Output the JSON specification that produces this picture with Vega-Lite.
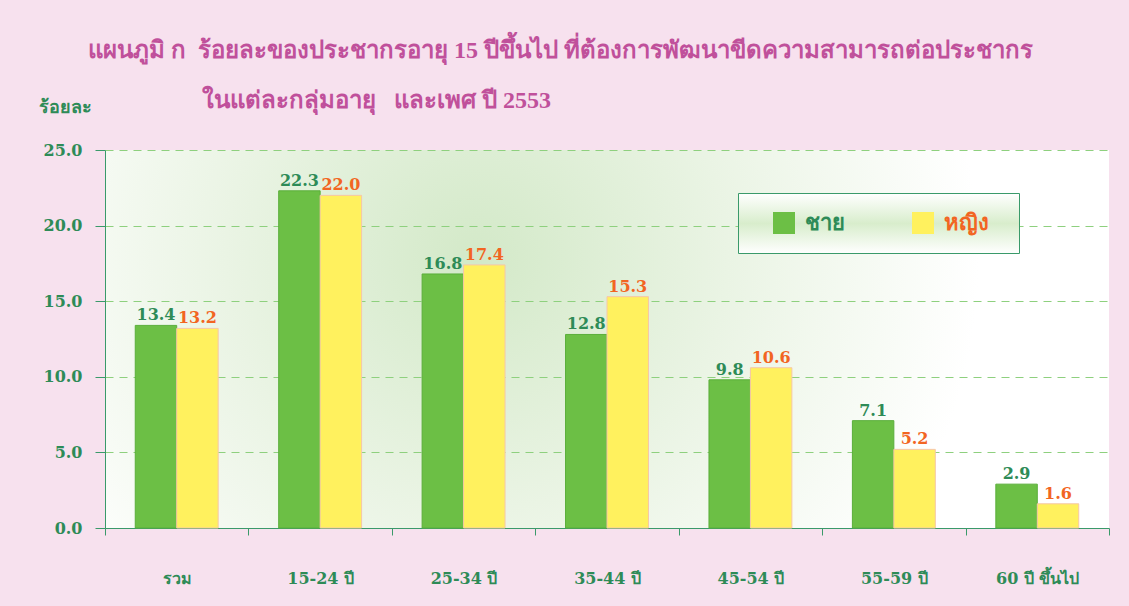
{
  "$schema": "https://vega.github.io/schema/vega-lite/v6.json",
  "width": 1004,
  "height": 378,
  "autosize": {"type": "none"},
  "padding": {"left": 105, "top": 150, "right": 20, "bottom": 78},
  "background": "#F7E1EE",
  "title": {
    "text": ["แผนภูมิ ก\u00a0\u00a0ร้อยละของประชากรอายุ 15 ปีขึ้นไป ที่ต้องการพัฒนาขีดความสามารถต่อประชากร", "\u200b\u00a0\u00a0\u00a0\u00a0\u00a0\u00a0\u00a0\u00a0\u00a0\u00a0\u00a0\u00a0\u00a0\u00a0\u00a0\u00a0\u00a0\u00a0\u00a0ในแต่ละกลุ่มอายุ\u00a0\u00a0\u00a0และเพศ ปี 2553"],
    "anchor": "start",
    "frame": "group",
    "dx": -17,
    "dy": 15,
    "fontSize": 24,
    "lineHeight": 50,
    "font": "Liberation Serif",
    "fontWeight": "bold",
    "color": "#C0509B",
    "offset": 0
  },
  "data": {
    "values": [
      {"group": "รวม", "sex": "ชาย", "value": 13.4},
      {"group": "รวม", "sex": "หญิง", "value": 13.2},
      {"group": "15-24 ปี", "sex": "ชาย", "value": 22.3},
      {"group": "15-24 ปี", "sex": "หญิง", "value": 22.0},
      {"group": "25-34 ปี", "sex": "ชาย", "value": 16.8},
      {"group": "25-34 ปี", "sex": "หญิง", "value": 17.4},
      {"group": "35-44 ปี", "sex": "ชาย", "value": 12.8},
      {"group": "35-44 ปี", "sex": "หญิง", "value": 15.3},
      {"group": "45-54 ปี", "sex": "ชาย", "value": 9.8},
      {"group": "45-54 ปี", "sex": "หญิง", "value": 10.6},
      {"group": "55-59 ปี", "sex": "ชาย", "value": 7.1},
      {"group": "55-59 ปี", "sex": "หญิง", "value": 5.2},
      {"group": "60 ปี ขึ้นไป", "sex": "ชาย", "value": 2.9},
      {"group": "60 ปี ขึ้นไป", "sex": "หญิง", "value": 1.6}
    ]
  },
  "encoding": {
    "x": {
      "field": "group",
      "type": "nominal",
      "sort": null,
      "scale": {"paddingInner": 0, "paddingOuter": 0},
      "axis": {
        "title": null,
        "labelAngle": 0,
        "labelFont": "DejaVu Serif",
        "labelFontSize": 16,
        "labelFontWeight": "bold",
        "labelColor": "#2E8B57",
        "labelBaseline": "alphabetic",
        "labelPadding": 48,
        "tickBand": "extent",
        "tickSize": 7,
        "tickColor": "#3A9A6A",
        "domainColor": "#3A9A6A",
        "grid": false
      }
    },
    "xOffset": {
      "field": "sex",
      "type": "nominal",
      "scale": {"paddingOuter": 0.73, "paddingInner": 0}
    },
    "y": {
      "field": "value",
      "type": "quantitative",
      "scale": {"domain": [0, 25], "nice": false},
      "axis": {
        "values": [0, 5, 10, 15, 20, 25],
        "format": ".1f",
        "title": "ร้อยละ",
        "titleAngle": 0,
        "titleX": -67,
        "titleY": -38,
        "titleAlign": "left",
        "titleBaseline": "alphabetic",
        "titleFont": "Liberation Serif",
        "titleFontSize": 18,
        "titleFontWeight": "bold",
        "titleColor": "#2E8B57",
        "labelFont": "DejaVu Serif",
        "labelFontSize": 16,
        "labelFontWeight": "bold",
        "labelColor": "#2E8B57",
        "labelPadding": 13,
        "tickSize": 10,
        "tickColor": "#3A9A6A",
        "domainColor": "#3A9A6A",
        "gridColor": "#8ED07E",
        "gridDash": [8, 6],
        "gridWidth": 1.2
      }
    }
  },
  "layer": [
    {
      "mark": {"type": "bar", "strokeWidth": 1},
      "encoding": {
        "color": {
          "field": "sex",
          "type": "nominal",
          "scale": {"domain": ["ชาย", "หญิง"], "range": ["#6CBF45", "#FFF15E"]},
          "legend": {
            "title": null,
            "orient": "none",
            "legendX": 633,
            "legendY": 43,
            "direction": "horizontal",
            "columns": 2,
            "columnPadding": 51,
            "padding": 19,
            "symbolType": "square",
            "symbolSize": 484,
            "symbolStrokeWidth": 0,
            "symbolOffset": 16,
            "labelFont": "Liberation Serif",
            "labelFontSize": 22,
            "labelFontWeight": "bold",
            "labelOffset": 10,
            "labelExpr": "datum.label === 'หญิง' ? datum.label + '\u00a0\u00a0\u200b' : datum.label",
            "strokeColor": "#3A9A6A",
            "encode": {
              "legend": {
                "update": {
                  "fill": {"value": {"gradient": "linear", "x1": 0, "y1": 0, "x2": 0, "y2": 1, "stops": [{"offset": 0, "color": "#FFFFFF"}, {"offset": 0.5, "color": "#D8EDCC"}, {"offset": 1, "color": "#FFFFFF"}]}}
                }
              },
              "labels": {
                "update": {
                  "fill": {"signal": "datum.value === 'ชาย' ? '#2E8B57' : '#F26522'"}
                }
              }
            }
          }
        },
        "stroke": {
          "field": "sex",
          "type": "nominal",
          "scale": {"domain": ["ชาย", "หญิง"], "range": ["#5AAE3A", "#F6C7A6"]},
          "legend": null
        }
      }
    },
    {
      "mark": {"type": "text", "baseline": "alphabetic", "dy": -5, "font": "DejaVu Serif", "fontSize": 16, "fontWeight": "bold"},
      "encoding": {
        "text": {"field": "value", "type": "quantitative", "format": ".1f"},
        "color": {
          "condition": {"test": "datum.sex === 'ชาย'", "value": "#2E8B57"},
          "value": "#F26522"
        }
      }
    }
  ],
  "config": {
    "view": {
      "stroke": null,
      "fill": {"gradient": "radial", "x1": 0.37, "y1": 0.42, "x2": 0.37, "y2": 0.42, "r1": 0, "r2": 0.5, "stops": [{"offset": 0, "color": "#D3E9C8"}, {"offset": 0.5, "color": "#EAF4E4"}, {"offset": 1, "color": "#FFFFFF"}]}
    }
  }
}
